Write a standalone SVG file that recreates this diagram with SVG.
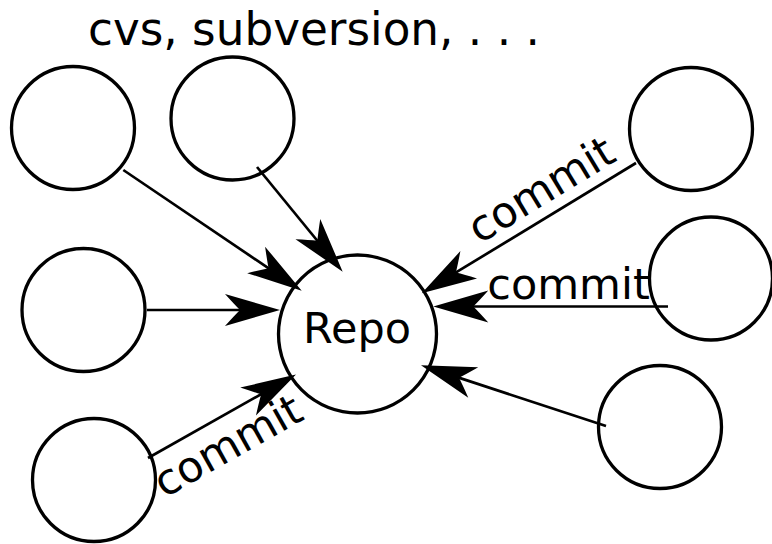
<svg xmlns="http://www.w3.org/2000/svg" width="772" height="544" viewBox="0 0 772 544">
<style>
.node{fill:#fff;stroke:#000;stroke-width:3.3}
.edge{fill:none;stroke:#000;stroke-width:2.7;marker-end:url(#arr)}
text{font-family:"DejaVu Sans","Noto Sans",sans-serif;fill:#000}
.lbl{font-size:43px}
</style>
<defs>
<marker id="arr" markerUnits="userSpaceOnUse" viewBox="-26 -17 58 34" markerWidth="58" markerHeight="34" refX="0" refY="0" orient="auto" overflow="visible">
<path d="M30,0 L-25,-16 Q-16,-6 -10,0 Q-16,6 -25,16 Z" fill="#000"/>
</marker>
</defs>
<rect width="772" height="544" fill="#fff"/>
<text id="title" x="88" y="45" font-size="45.3">cvs, subversion, . . .</text>
<g id="client1"><circle class="node" cx="73" cy="128" r="61.5"/></g>
<g id="client2"><circle class="node" cx="232.5" cy="118.5" r="61.5"/></g>
<g id="client3"><circle class="node" cx="83.5" cy="310" r="61.5"/></g>
<g id="client4"><circle class="node" cx="94" cy="480" r="61.5"/></g>
<g id="client5"><circle class="node" cx="691" cy="129" r="61.5"/></g>
<g id="client6"><circle class="node" cx="711" cy="278.5" r="61.5"/></g>
<g id="client7"><circle class="node" cx="660" cy="427" r="61.5"/></g>
<g id="repo"><circle class="node" cx="357.5" cy="334" r="79"/><text class="lbl" x="357" y="343" text-anchor="middle">Repo</text></g>
<g id="connectors">
<line class="edge" x1="123.3" y1="170" x2="276.85" y2="273.89"/>
<line class="edge" x1="257" y1="167" x2="323.7" y2="248.49"/>
<line class="edge" x1="147" y1="310" x2="250" y2="310"/>
<line class="edge" x1="148" y1="458" x2="269.87" y2="389.24"/>
<line class="edge" x1="636" y1="163" x2="447.34" y2="277.71"/>
<line class="edge" x1="668" y1="306.5" x2="463.3" y2="306.5"/>
<line class="edge" x1="606" y1="426" x2="449.5" y2="374.65"/>
<text class="lbl" x="235" y="458.5" text-anchor="middle" transform="rotate(-29.4 235 458.5)">commit</text>
<text class="lbl" x="548.7" y="202.3" text-anchor="middle" transform="rotate(-31.3 548.7 202.3)">commit</text>
<text class="lbl" x="568.5" y="299" text-anchor="middle">commit</text>
</g>
</svg>
